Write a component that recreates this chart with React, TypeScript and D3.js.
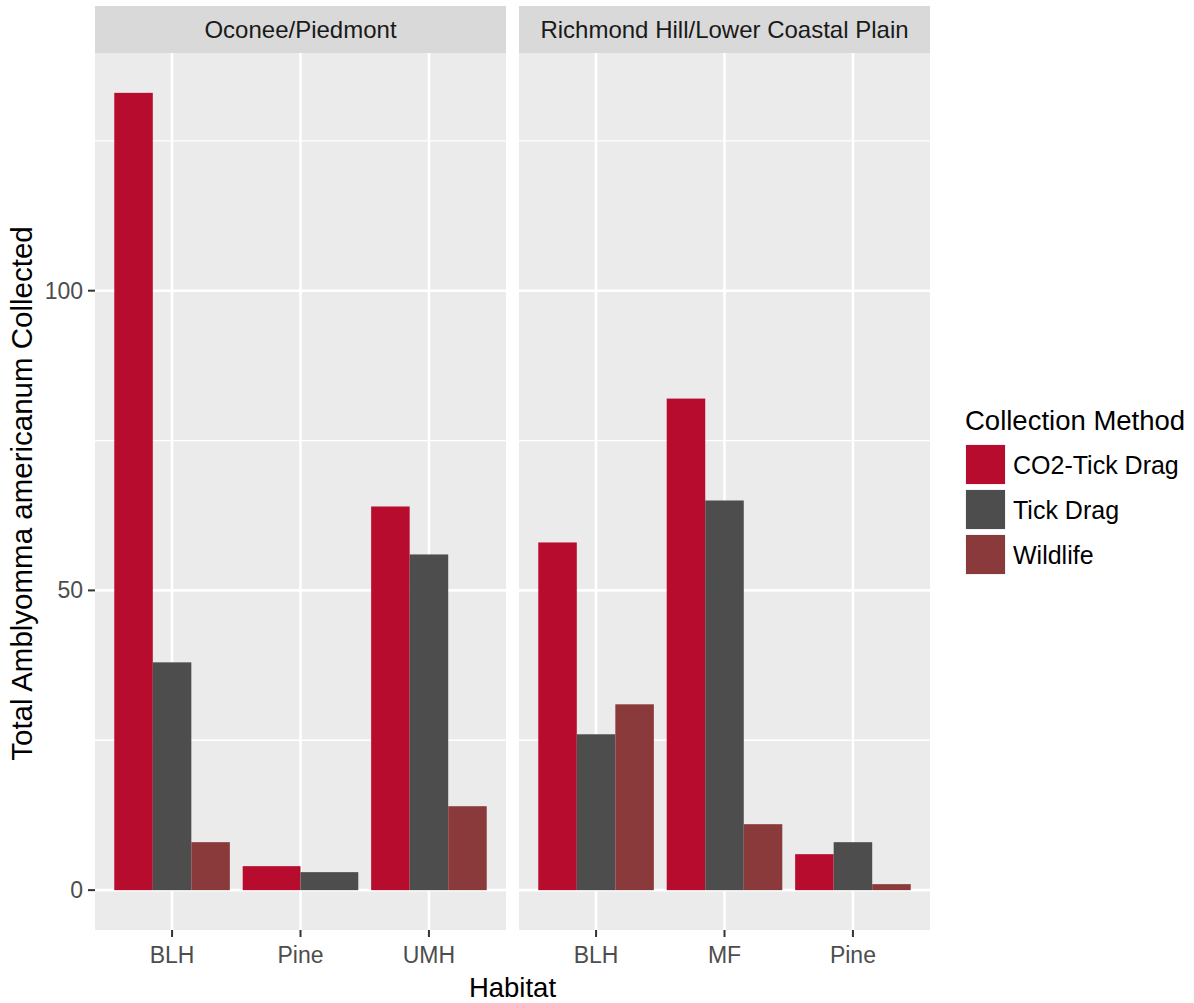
import React from "react";
import * as d3 from "d3";

// Tick counts per habitat, faceted by collection region
const methods = ["CO2-Tick Drag", "Tick Drag", "Wildlife"];
const methodColors = ["#B80C2F", "#4D4D4D", "#8A3A3A"];

const regions = ["Oconee/Piedmont", "Richmond Hill/Lower Coastal Plain"];

const oconeeHabitats = ["BLH", "Pine", "UMH"];
const oconeeCO2 = [133, 4, 64];
const oconeeTickDrag = [38, 3, 56];
const oconeeWildlife: (number | null)[] = [8, null, 14];

const richmondHabitats = ["BLH", "MF", "Pine"];
const richmondCO2 = [58, 82, 6];
const richmondTickDrag = [26, 65, 8];
const richmondWildlife: (number | null)[] = [31, 11, 1];

const yTicks = [0, 50, 100];
const yMinor = [25, 75, 125];

const W = 1194;
const H = 1003;
const FONT = "'Liberation Sans', Arial, sans-serif";

const panelTop = 53;
const panelBottom = 930;
const stripTop = 6;
const panelBoxes = [
  { x0: 95, x1: 506 },
  { x0: 519, x1: 930 },
];

type Cell = { habitat: string; method: string; value: number };

function buildCells(habitats: string[], series: (number | null)[][]): Cell[] {
  const out: Cell[] = [];
  habitats.forEach((h, i) => {
    series.forEach((vals, m) => {
      const v = vals[i];
      if (v !== null && v !== undefined) out.push({ habitat: h, method: methods[m], value: v });
    });
  });
  return out;
}

const facets = [
  { name: regions[0], habitats: oconeeHabitats, cells: buildCells(oconeeHabitats, [oconeeCO2, oconeeTickDrag, oconeeWildlife]) },
  { name: regions[1], habitats: richmondHabitats, cells: buildCells(richmondHabitats, [richmondCO2, richmondTickDrag, richmondWildlife]) },
];

export default function App() {
  const allVals = facets.flatMap((f) => f.cells.map((c) => c.value));
  const maxV = d3.max(allVals) as number;
  const pad = maxV * 0.05;
  const y = d3.scaleLinear().domain([-pad, maxV + pad]).range([panelBottom, panelTop]);
  const color = d3.scaleOrdinal<string, string>().domain(methods).range(methodColors);

  return (
    <svg width={W} height={H} style={{ display: "block", position: "absolute", left: 0, top: 0, background: "#fff" }} fontFamily={FONT}>
      <rect x={0} y={0} width={W} height={H} fill="#fff" />
      {facets.map((f, fi) => {
        const box = panelBoxes[fi];
        const x = d3.scalePoint<string>().domain(f.habitats).range([box.x0, box.x1]).padding(0.6);
        const step = x.step();
        return (
          <g key={f.name}>
            {/* strip */}
            <rect x={box.x0} y={stripTop} width={box.x1 - box.x0} height={panelTop - stripTop} fill="#D9D9D9" />
            <text x={(box.x0 + box.x1) / 2} y={(stripTop + panelTop) / 2} dominantBaseline="central" textAnchor="middle" fontSize={24} fill="#1A1A1A">
              {f.name}
            </text>
            {/* panel background + grid */}
            <rect x={box.x0} y={panelTop} width={box.x1 - box.x0} height={panelBottom - panelTop} fill="#EBEBEB" />
            {yMinor.map((v) => (
              <line key={"mn" + v} x1={box.x0} x2={box.x1} y1={y(v)} y2={y(v)} stroke="#fff" strokeWidth={1.3} />
            ))}
            {yTicks.map((v) => (
              <line key={"mj" + v} x1={box.x0} x2={box.x1} y1={y(v)} y2={y(v)} stroke="#fff" strokeWidth={2.6} />
            ))}
            {f.habitats.map((h) => (
              <line key={"vx" + h} x1={x(h)} x2={x(h)} y1={panelTop} y2={panelBottom} stroke="#fff" strokeWidth={2.6} />
            ))}
            {/* bars, dodged within each habitat */}
            {f.habitats.map((h) => {
              const cells = f.cells.filter((c) => c.habitat === h);
              const sub = d3
                .scaleBand<string>()
                .domain(cells.map((c) => c.method))
                .range([-0.45 * step, 0.45 * step])
                .padding(0);
              return cells.map((c) => (
                <rect
                  key={h + c.method}
                  x={(x(h) as number) + (sub(c.method) as number)}
                  y={y(c.value)}
                  width={sub.bandwidth()}
                  height={y(0) - y(c.value)}
                  fill={color(c.method)}
                />
              ));
            })}
            {/* x axis */}
            {f.habitats.map((h) => (
              <g key={"xt" + h}>
                <line x1={x(h)} x2={x(h)} y1={panelBottom} y2={panelBottom + 7} stroke="#333" strokeWidth={2} />
                <text x={x(h)} y={963} textAnchor="middle" fontSize={23} fill="#4D4D4D">
                  {h}
                </text>
              </g>
            ))}
          </g>
        );
      })}
      {/* y axis */}
      {yTicks.map((v) => (
        <g key={"yt" + v}>
          <line x1={88} x2={95} y1={y(v)} y2={y(v)} stroke="#333" strokeWidth={2} />
          <text x={83} y={y(v)} dominantBaseline="central" textAnchor="end" fontSize={23} fill="#4D4D4D">
            {v}
          </text>
        </g>
      ))}
      {/* axis titles */}
      <text x={(panelBoxes[0].x0 + panelBoxes[1].x1) / 2} y={997} textAnchor="middle" fontSize={27.5} fill="#000">
        Habitat
      </text>
      <text
        transform={`translate(32, ${(panelTop + panelBottom) / 2 + 2}) rotate(-90)`}
        textAnchor="middle"
        fontSize={29.5}
        fill="#000"
      >
        Total Amblyomma americanum Collected
      </text>
      {/* legend */}
      <text x={965} y={430} fontSize={27.5} fill="#000">
        Collection Method
      </text>
      {methods.map((m, i) => {
        const top = 444 + i * 45;
        return (
          <g key={"lg" + m}>
            <rect x={965} y={top} width={41} height={41} fill="#F2F2F2" />
            <rect x={966} y={top + 1} width={39} height={39} fill={color(m)} />
            <text x={1013} y={top + 20.5} dominantBaseline="central" fontSize={25} fill="#000">
              {m}
            </text>
          </g>
        );
      })}
    </svg>
  );
}
